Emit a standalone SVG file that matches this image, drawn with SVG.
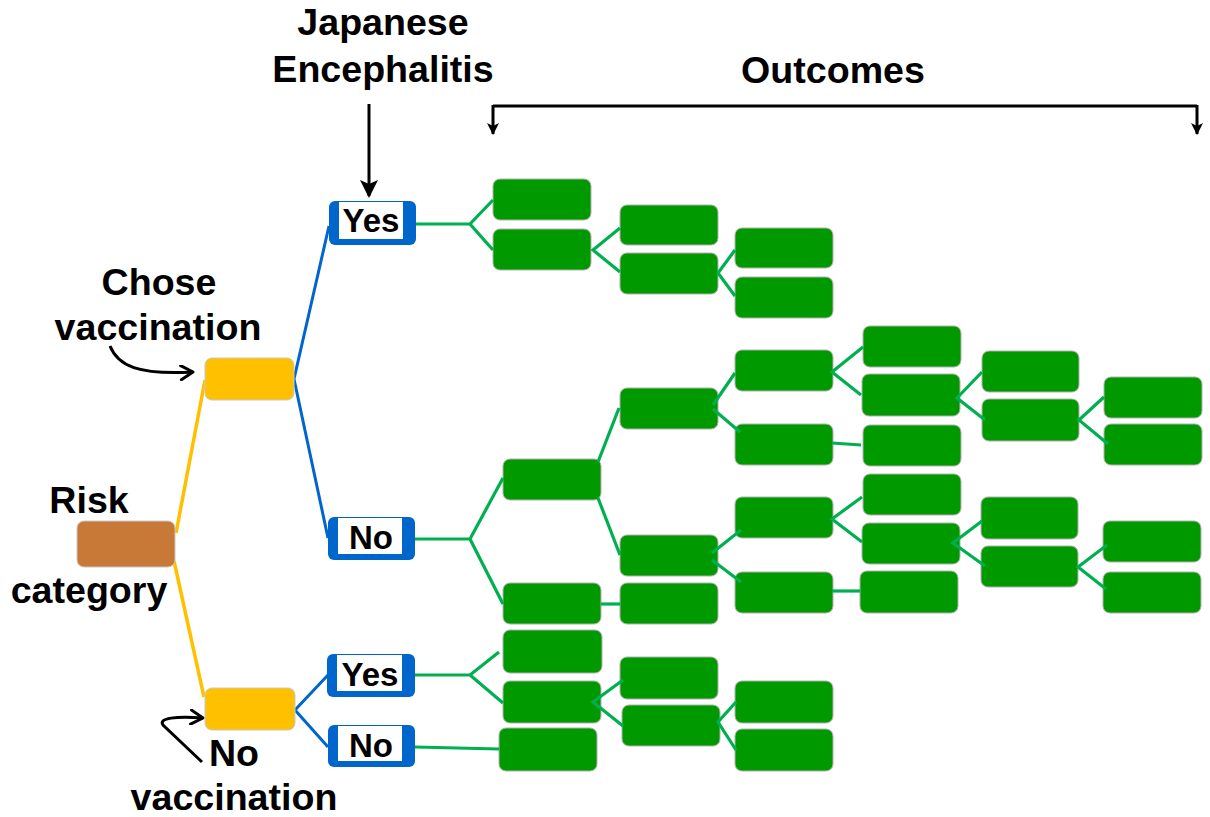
<svg xmlns="http://www.w3.org/2000/svg" width="1210" height="817" viewBox="0 0 1210 817">
<defs>
<marker id="headBig" markerUnits="userSpaceOnUse" viewBox="0 0 18 18" refX="16" refY="9" markerWidth="18" markerHeight="18" orient="auto"><path d="M0,0 L18,9 L0,18 L4,9 z" fill="#000"/></marker>
<marker id="headSmall" markerUnits="userSpaceOnUse" viewBox="0 0 12 12" refX="11" refY="6" markerWidth="12" markerHeight="12" orient="auto"><path d="M0,0 L12,6 L0,12 L3,6 z" fill="#000"/></marker>
<marker id="headOpen" markerUnits="userSpaceOnUse" viewBox="0 0 16 16" refX="14" refY="8" markerWidth="16" markerHeight="16" orient="auto"><path d="M2,1 L14,8 L2,15" fill="none" stroke="#000" stroke-width="3" stroke-linecap="round" stroke-linejoin="round"/></marker>
</defs>
<style>
.t{font-family:"Liberation Sans",Arial,sans-serif;font-weight:bold;fill:#000;text-anchor:middle}
.big{font-size:37.6px}
.yn{font-size:33px}
.g{fill:#009900;stroke:#b0b0b0;stroke-width:1}
.ylw{fill:#FFC000;stroke:#c8c8c8;stroke-width:1}
.brn{fill:#C97937;stroke:#c8c8c8;stroke-width:1}
.bl{fill:#0066CC}
.wh{fill:#fff}
.cg{fill:none;stroke:#00B050;stroke-width:3.2;stroke-linejoin:miter}
.cb{fill:none;stroke:#0066CC;stroke-width:3}
.cy{fill:none;stroke:#FFC000;stroke-width:3.5}
.ck{fill:none;stroke:#000;stroke-width:3}
</style>
<rect width="1210" height="817" fill="#fff"/>

<g id="labels">
<text class="t big" x="383" y="35">Japanese</text>
<text class="t big" x="383" y="82">Encephalitis</text>
<text class="t big" x="833" y="83">Outcomes</text>
<text class="t big" x="159" y="295">Chose</text>
<text class="t big" x="158" y="340">vaccination</text>
<text class="t big" x="89" y="513">Risk</text>
<text class="t big" x="89" y="603">category</text>
<text class="t big" x="234" y="766">No</text>
<text class="t big" x="234" y="810">vaccination</text>
</g>

<g id="pointers">
<path class="ck" d="M369,104 V196" marker-end="url(#headBig)"/>
<path class="ck" d="M493,106 H1197"/>
<path class="ck" d="M493,105 V134" marker-end="url(#headSmall)"/>
<path class="ck" d="M1197,105 V134" marker-end="url(#headSmall)"/>
<path class="ck" d="M110,346 C118,366 138,375 193,372" marker-end="url(#headOpen)"/>
<path class="ck" d="M202,762 L163,725 C158,718 176,716 203,718" marker-end="url(#headOpen)"/>
</g>

<g id="connectors">
<path class="cy" d="M176,533 L205,380"/>
<path class="cy" d="M174,561 L204,697"/>
<path class="cb" d="M329,226 L294,379 L328,538"/>
<path class="cb" d="M328,675 L295,710 L328,747"/>
</g>

<g id="risk"><rect class="brn" x="77" y="521" width="98" height="46" rx="7"/></g>
<g id="chose"><rect class="ylw" x="205" y="358" width="89" height="42" rx="7"/></g>
<g id="novacc"><rect class="ylw" x="205" y="688" width="90" height="42" rx="7"/></g>

<g id="yes1"><rect class="bl" x="329" y="201" width="87" height="44" rx="6"/><rect class="wh" x="339" y="202" width="64" height="37"/><text class="t yn" x="371" y="232">Yes</text></g>
<g id="no1"><rect class="bl" x="328" y="517" width="87" height="43" rx="6"/><rect class="wh" x="338" y="518" width="64" height="36"/><text class="t yn" x="371" y="549">No</text></g>
<g id="yes2"><rect class="bl" x="327" y="654" width="88" height="43" rx="6"/><rect class="wh" x="337" y="655" width="65" height="36"/><text class="t yn" x="370" y="686">Yes</text></g>
<g id="no2"><rect class="bl" x="328" y="725" width="87" height="42" rx="6"/><rect class="wh" x="338" y="726" width="64" height="35"/><text class="t yn" x="371" y="757">No</text></g>

<g id="outcomes">
<rect id="A1" class="g" x="493" y="179" width="98" height="41" rx="7"/>
<rect id="A2" class="g" x="493" y="229" width="98" height="41" rx="7"/>
<rect id="B1" class="g" x="620" y="205" width="98" height="40" rx="7"/>
<rect id="B2" class="g" x="620" y="253" width="98" height="41" rx="7"/>
<rect id="C1" class="g" x="735" y="228" width="98" height="40" rx="7"/>
<rect id="C2" class="g" x="735" y="277" width="98" height="41" rx="7"/>
<rect id="M1" class="g" x="503" y="459" width="98" height="41" rx="7"/>
<rect id="M2" class="g" x="503" y="583" width="98" height="41" rx="7"/>
<rect id="N1" class="g" x="620" y="388" width="98" height="41" rx="7"/>
<rect id="N2" class="g" x="620" y="535" width="98" height="41" rx="7"/>
<rect id="N3" class="g" x="620" y="583" width="98" height="41" rx="7"/>
<rect id="O1" class="g" x="735" y="350" width="98" height="41" rx="7"/>
<rect id="O2" class="g" x="735" y="424" width="98" height="41" rx="7"/>
<rect id="O3" class="g" x="735" y="497" width="98" height="41" rx="7"/>
<rect id="O4" class="g" x="735" y="572" width="98" height="41" rx="7"/>
<rect id="P1" class="g" x="863" y="326" width="98" height="41" rx="7"/>
<rect id="P2" class="g" x="862" y="374" width="98" height="42" rx="7"/>
<rect id="P3" class="g" x="863" y="425" width="98" height="41" rx="7"/>
<rect id="P4" class="g" x="863" y="474" width="98" height="41" rx="7"/>
<rect id="P5" class="g" x="862" y="523" width="98" height="41" rx="7"/>
<rect id="P6" class="g" x="860" y="571" width="98" height="42" rx="7"/>
<rect id="Q1" class="g" x="982" y="351" width="97" height="41" rx="7"/>
<rect id="Q2" class="g" x="982" y="399" width="97" height="42" rx="7"/>
<rect id="Q3" class="g" x="981" y="497" width="97" height="42" rx="7"/>
<rect id="Q4" class="g" x="981" y="546" width="97" height="41" rx="7"/>
<rect id="R1" class="g" x="1104" y="377" width="98" height="41" rx="7"/>
<rect id="R2" class="g" x="1104" y="424" width="98" height="41" rx="7"/>
<rect id="R3" class="g" x="1103" y="521" width="98" height="41" rx="7"/>
<rect id="R4" class="g" x="1103" y="572" width="98" height="41" rx="7"/>
<rect id="S1" class="g" x="503" y="630" width="99" height="43" rx="7"/>
<rect id="S2" class="g" x="503" y="681" width="98" height="42" rx="7"/>
<rect id="S3" class="g" x="499" y="728" width="98" height="43" rx="7"/>
<rect id="T1" class="g" x="620" y="657" width="98" height="42" rx="7"/>
<rect id="T2" class="g" x="622" y="705" width="98" height="41" rx="7"/>
<rect id="U1" class="g" x="735" y="681" width="98" height="42" rx="7"/>
<rect id="U2" class="g" x="735" y="729" width="98" height="42" rx="7"/>
</g>

<g id="green-connectors">
<path class="cg" d="M416,224 H470 M493,200 L470,224 L493,250"/>
<path class="cg" d="M620,228 L593,250 L620,272"/>
<path class="cg" d="M735,250 L718,273 L735,296"/>
<path class="cg" d="M415,539 H470 M503,478 L470,539 L503,604"/>
<path class="cg" d="M598,462 L619,408 M598,498 L620,555"/>
<path class="cg" d="M601,604 H620"/>
<path class="cg" d="M713,405 L735,373 M713,409 L740,432"/>
<path class="cg" d="M712,553 L741,530 M712,560 L741,582"/>
<path class="cg" d="M863,347 L832,372 L861,395"/>
<path class="cg" d="M832,443 L861,445"/>
<path class="cg" d="M862,497 L832,519 L862,542"/>
<path class="cg" d="M832,591 H860"/>
<path class="cg" d="M982,372 L957,398 L985,420"/>
<path class="cg" d="M1104,397 L1079,420 L1108,444"/>
<path class="cg" d="M982,521 L953,543 L985,566"/>
<path class="cg" d="M1107,545 L1078,567 L1106,589"/>
<path class="cg" d="M415,675 H470 M499,652 L470,675 L503,703"/>
<path class="cg" d="M623,680 L593,702 L623,726"/>
<path class="cg" d="M736,702 L718,722 L736,750"/>
<path class="cg" d="M415,747 L499,749"/>
</g>
</svg>
